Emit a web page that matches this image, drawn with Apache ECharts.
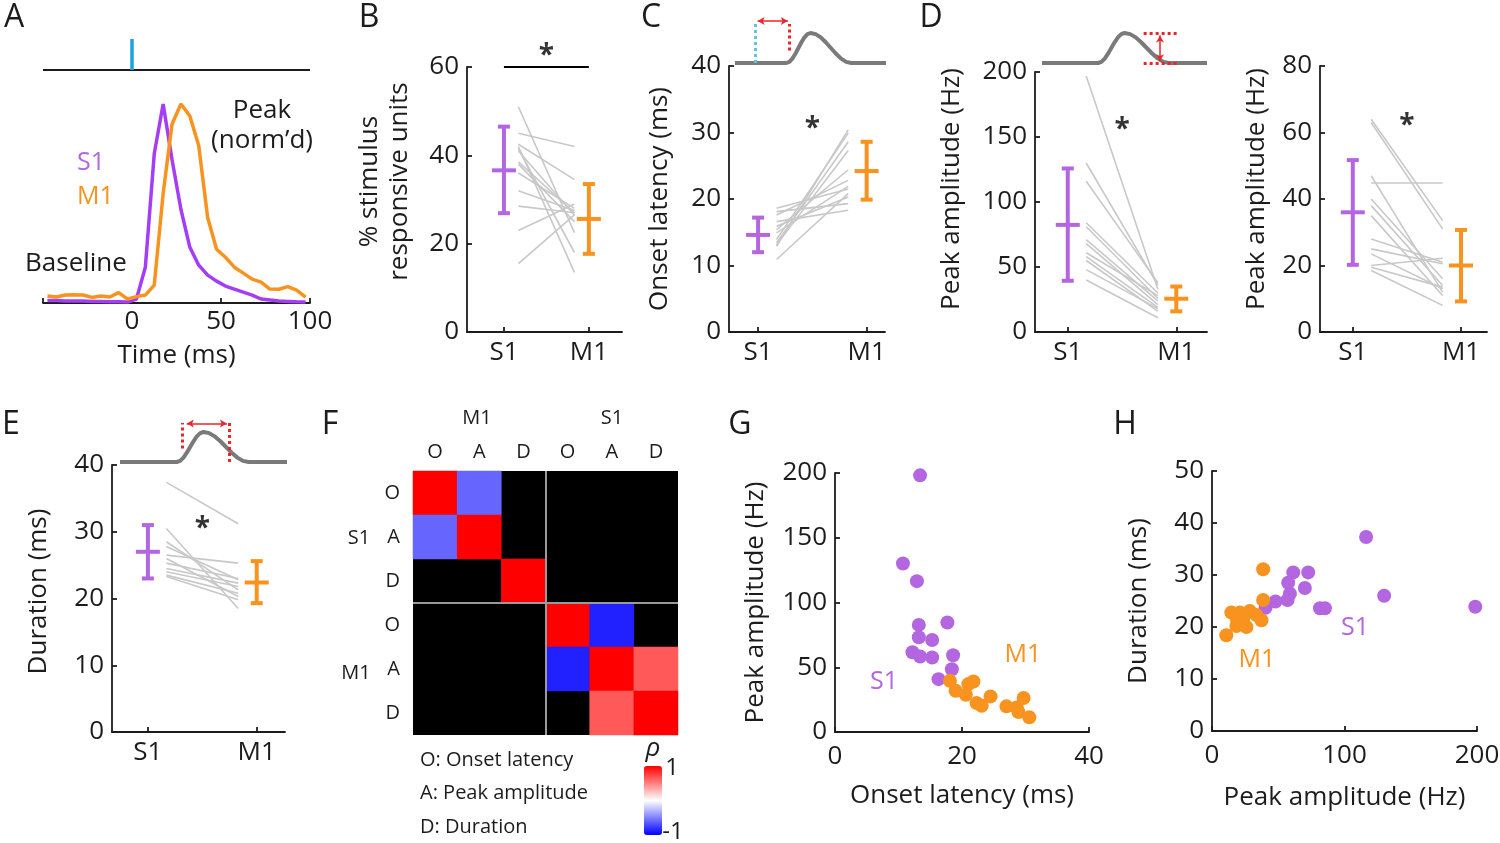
<!DOCTYPE html>
<html>
<head>
<meta charset="utf-8">
<script src="https://cdn.jsdelivr.net/npm/echarts@6/dist/echarts.min.js"></script>
<style>
  html, body { margin: 0; padding: 0; background: #fff; }
  #main { width: 1500px; height: 843px; }
</style>
</head>
<body>
<div id="main"></div>
<script>
// ---------------- data ----------------
// A: population PSTH, normalised to peak
var timeMs = [-47.5, -42.5, -37.5, -32.5, -27.5, -22.5, -17.5, -12.5, -7.5, -2.5,
              2.5, 7.5, 12.5, 17.5, 22.5, 27.5, 32.5, 37.5, 42.5, 47.5,
              52.5, 57.5, 62.5, 67.5, 72.5, 77.5, 82.5, 87.5, 92.5, 97.5];
var s1Psth = [0.012, 0.012, 0.01, 0.01, 0.01, 0.008, 0.008, 0.006, 0.006, 0.005,
              0.02, 0.18, 0.75, 1.0, 0.72, 0.47, 0.28, 0.19, 0.14, 0.11,
              0.085, 0.07, 0.055, 0.04, 0.02, 0.015, 0.01, 0.008, 0.006, 0.005];
var m1Psth = [0.035, 0.03, 0.04, 0.042, 0.04, 0.028, 0.035, 0.03, 0.052, 0.02,
              0.032, 0.04, 0.09, 0.55, 0.90, 1.0, 0.94, 0.79, 0.43, 0.27,
              0.23, 0.18, 0.15, 0.12, 0.105, 0.07, 0.069, 0.082, 0.065, 0.03];

// B: % stimulus responsive units (per animal, S1 -> M1)
var pctS1 = [51, 45, 42.5, 42, 41.5, 41, 38.5, 38, 36, 32, 28.5, 23, 15.5];
var pctM1 = [22.5, 42, 34.5, 13.5, 18, 26.5, 27, 25, 28, 27.5, 27, 29, 26.5];
var pctMean = [36.6, 25.6], pctLow = [26.9, 17.7], pctHigh = [46.5, 33.5];

// C: onset latency (ms)
var latS1 = [18.6, 18.1, 17.6, 16.6, 15.9, 15.4, 14.9, 13.9, 13.4, 13.1, 12.9, 10.9];
var latM1 = [21.5, 19.3, 22.8, 18.3, 20.3, 24.4, 21.9, 29.9, 28.6, 27.3, 30.4, 20.8];
var latMean = [14.6, 24.2], latLow = [12, 19.9], latHigh = [17.2, 28.6];

// D: peak amplitude (Hz)
var ampS1 = [197, 130, 116, 84, 81, 71, 68, 61, 58, 55, 48, 40];
var ampM1 = [33, 36, 38, 30, 26, 24, 21, 28, 19, 16, 18, 11];
var ampMean = [82.4, 25.6], ampLow = [39.4, 15.9], ampHigh = [125.8, 35];

// D (right): peak amplitude (Hz), second measure
var amp2S1 = [64, 63, 47, 45, 40, 38, 35, 28, 25, 23.5, 20, 19.5, 18.5];
var amp2M1 = [33.5, 31, 12, 45, 16, 14, 11, 21, 20.5, 13, 22.2, 13.5, 8];
var amp2Mean = [36, 20], amp2Low = [20.2, 9.2], amp2High = [51.7, 30.7];

// E: duration (ms)
var durS1 = [37.4, 30.5, 28.5, 27.8, 26.5, 26, 25.3, 24.5, 24, 23.5, 23.3];
var durM1 = [31.2, 18.5, 21.3, 22.8, 25.3, 20.3, 23, 22.3, 21.8, 20.8, 19.8];
var durMean = [27, 22.4], durLow = [23, 19.3], durHigh = [31, 25.6];

// F: correlation matrix (null = not significant, drawn black)
var corrLabels = ['O', 'A', 'D', 'O', 'A', 'D'];
var corrRho = [
  [1, -0.6, null, null, null, null],
  [-0.6, 1, null, null, null, null],
  [null, null, 1, null, null, null],
  [null, null, null, 1, -0.87, null],
  [null, null, null, -0.87, 1, 0.65],
  [null, null, null, null, 0.65, 1]
];

// G: onset latency vs peak amplitude
var gLatS1 = [13.4, 10.7, 12.9, 13.2, 17.7, 13.2, 15.3, 12.2, 13.4, 15.3, 18.6, 18.4, 16.3];
var gAmpS1 = [198.2, 130.1, 116.5, 82.7, 84.5, 73.2, 71.1, 61.6, 58.3, 57.5, 59.3, 48.5, 40.8];
var gLatM1 = [18.1, 19.0, 21.0, 21.8, 20.6, 22.3, 23.1, 24.5, 27.0, 28.6, 29.7, 28.9, 30.6];
var gAmpM1 = [39.5, 31.8, 37.0, 39.0, 28.8, 22.3, 20.3, 27.5, 19.8, 19.0, 26.2, 15.4, 11.3];

// H: peak amplitude vs duration
var hAmpS1 = [116.3, 129.9, 198.7, 61.3, 72.6, 57.5, 70.1, 58.8, 57.0, 47.9, 40.4, 81.5, 85.2];
var hDurS1 = [37.3, 26.0, 23.9, 30.5, 30.5, 28.5, 27.5, 26.4, 25.2, 24.9, 23.7, 23.6, 23.6];
var hAmpM1 = [38.6, 38.6, 14.6, 21.0, 28.5, 33.5, 37.3, 10.8, 18.4, 26.0, 19.0, 23.5];
var hDurM1 = [31.1, 25.2, 22.8, 22.8, 23.1, 22.3, 21.3, 18.4, 20.2, 20.0, 21.3, 21.6];

// schematic response bump used above C, D, E (shape only)
var bumpX = [0, 0.34, 0.36, 0.38, 0.40, 0.42, 0.44, 0.46, 0.48, 0.50,
             0.534, 0.568, 0.601, 0.635, 0.669, 0.703, 0.736, 0.77, 1];
var bumpY = [0, 0, 0.038, 0.146, 0.309, 0.5, 0.691, 0.854, 0.962, 1,
             0.962, 0.854, 0.691, 0.5, 0.309, 0.146, 0.038, 0, 0];

// ---------------- style ----------------
var PURPLE = '#B366E0', PURPLE_LINE = '#A63DF6', ORANGE = '#F7931E';
var GRAY = '#c8c8c8', INK = '#1c1c1c', RED = '#E8262B', CYAN = '#5BC8DC';
var FONT = "'Open Sans', 'Noto Sans', sans-serif";
var pairX = [1.17, 1.83];

var grids = [], xAxes = [], yAxes = [], series = [], graphics = [];

function addGrid(box) {
  box.containLabel = false;
  box.outerBoundsMode = 'none';
  grids.push(box);
  return grids.length - 1;
}
var axisLine = { show: true, lineStyle: { color: INK, width: 1.8 } };
var tickIn = { show: true, inside: true, length: 5, lineStyle: { color: INK, width: 1.8 } };
function lbl(extra) {
  return Object.assign({ color: INK, fontSize: 26, fontFamily: FONT, margin: 8 }, extra || {});
}
function nameStyle(pad) {
  return { color: INK, fontSize: 26, fontFamily: FONT, lineHeight: 30, padding: pad || 0 };
}
function pairData(a, b) {
  return a.map(function (v, i) { return [v, b[i]]; });
}

function renderErr(params, api) {
  var x = api.value(0);
  var pm = api.coord([x, api.value(1)]);
  var pl = api.coord([x, api.value(2)]);
  var ph = api.coord([x, api.value(3)]);
  var st = { stroke: params.dataIndex === 0 ? PURPLE : ORANGE, lineWidth: 4 };
  return {
    type: 'group',
    children: [
      { type: 'line', shape: { x1: pl[0], y1: pl[1], x2: ph[0], y2: ph[1] }, style: st },
      { type: 'line', shape: { x1: pl[0] - 6, y1: pl[1], x2: pl[0] + 6, y2: pl[1] }, style: st },
      { type: 'line', shape: { x1: ph[0] - 6, y1: ph[1], x2: ph[0] + 6, y2: ph[1] }, style: st },
      { type: 'line', shape: { x1: pm[0] - 12, y1: pm[1], x2: pm[0] + 12, y2: pm[1] }, style: st }
    ]
  };
}

// S1 vs M1 paired panel (B, C, D, E)
function pairPanel(box, xr, yMax, yInt, yName, gap, pad, s1, m1, mean, low, high, star, sigBar) {
  var gi = addGrid(box);
  xAxes.push({
    gridIndex: gi, type: 'value', min: xr[0], max: xr[1],
    axisLine: axisLine,
    axisTick: Object.assign({}, tickIn, { customValues: [1, 2] }),
    axisLabel: lbl({ customValues: [1, 2], formatter: function (v) { return v === 1 ? 'S1' : 'M1'; } }),
    splitLine: { show: false }
  });
  yAxes.push({
    gridIndex: gi, type: 'value', min: 0, max: yMax, interval: yInt,
    name: yName, nameLocation: 'middle', nameGap: gap, nameTextStyle: nameStyle(pad),
    axisLine: axisLine, axisTick: tickIn, axisLabel: lbl(), splitLine: { show: false }
  });
  var xi = xAxes.length - 1, yi = yAxes.length - 1;
  series.push({
    type: 'lines', coordinateSystem: 'cartesian2d', xAxisIndex: xi, yAxisIndex: yi,
    silent: true, z: 2,
    lineStyle: { color: GRAY, width: 1.6, opacity: 1 },
    data: s1.map(function (v, i) { return { coords: [[pairX[0], v], [pairX[1], m1[i]]] }; })
  });
  series.push({
    type: 'custom', coordinateSystem: 'cartesian2d', xAxisIndex: xi, yAxisIndex: yi,
    silent: true, z: 3, renderItem: renderErr,
    data: [[1, mean[0], low[0], high[0]], [2, mean[1], low[1], high[1]]]
  });
  series.push({
    type: 'scatter', xAxisIndex: xi, yAxisIndex: yi, clip: false, silent: true,
    symbolSize: 1, itemStyle: { color: 'rgba(0,0,0,0)' },
    label: { show: true, position: 'inside', formatter: '*', fontSize: 28, fontWeight: 'bold', color: '#000', fontFamily: FONT, offset: [0, 7] },
    data: [star]
  });
  if (sigBar) {
    series.push({
      type: 'lines', coordinateSystem: 'cartesian2d', xAxisIndex: xi, yAxisIndex: yi,
      silent: true, lineStyle: { color: '#000', width: 2, opacity: 1 },
      data: [{ coords: sigBar }]
    });
  }
}

// small cartoon of a response above C, D and E
function cartoon(box, marks) {
  var gi = addGrid(box);
  xAxes.push({ gridIndex: gi, type: 'value', min: 0, max: 1, show: false });
  yAxes.push({ gridIndex: gi, type: 'value', min: 0, max: 1.5, show: false });
  series.push({
    type: 'line', xAxisIndex: xAxes.length - 1, yAxisIndex: yAxes.length - 1,
    showSymbol: false, silent: true, clip: false,
    lineStyle: { color: '#7a7a7a', width: 4 },
    data: pairData(bumpX, bumpY),
    markLine: { silent: true, symbol: ['none', 'none'], label: { show: false }, animation: false, data: marks }
  });
}
function dotted(x1, y1, x2, y2, color) {
  return [{ coord: [x1, y1], lineStyle: { color: color, type: 'dotted', width: 3 } }, { coord: [x2, y2] }];
}
function arrow(x1, y1, x2, y2) {
  return [{ coord: [x1, y1], symbol: 'arrow', symbolSize: [6, 7], lineStyle: { color: RED, type: 'solid', width: 1.5 } },
          { coord: [x2, y2], symbol: 'arrow', symbolSize: [6, 7] }];
}

function txt(x, y, s, o) {
  o = o || {};
  graphics.push({
    type: 'text', x: x, y: y, silent: true,
    style: {
      text: s, fill: o.color || INK, fontSize: o.size || 26, fontFamily: FONT,
      fontStyle: o.italic ? 'italic' : 'normal',
      textAlign: o.align || 'center', textVerticalAlign: 'middle'
    }
  });
}

// ---------------- panel A ----------------
var gA = addGrid({ left: 43, top: 39, width: 267, height: 264 });
xAxes.push({
  gridIndex: gA, type: 'value', min: -50, max: 100, interval: 50,
  name: 'Time (ms)', nameLocation: 'middle', nameGap: 38, nameTextStyle: nameStyle(),
  axisLine: axisLine, axisTick: tickIn,
  axisLabel: lbl({ margin: 6, customValues: [0, 50, 100] }), splitLine: { show: false }
});
yAxes.push({ gridIndex: gA, type: 'value', min: 0, max: 1.327, show: false });
series.push({
  type: 'line', xAxisIndex: 0, yAxisIndex: 0, showSymbol: false, silent: true,
  lineStyle: { color: PURPLE_LINE, width: 3.5 }, data: pairData(timeMs, s1Psth),
  markLine: {
    silent: true, symbol: ['none', 'none'], label: { show: false }, animation: false,
    data: [
      [{ coord: [-50, 1.171], lineStyle: { color: INK, width: 2, type: 'solid' } }, { coord: [100, 1.171] }],
      [{ coord: [0, 1.171], lineStyle: { color: '#1AA3E0', width: 3.5, type: 'solid' } }, { coord: [0, 1.327] }]
    ]
  }
});
series.push({
  type: 'line', xAxisIndex: 0, yAxisIndex: 0, showSymbol: false, silent: true,
  lineStyle: { color: ORANGE, width: 3.5 }, data: pairData(timeMs, m1Psth)
});

// ---------------- panels B-E ----------------
pairPanel({ left: 467, top: 67, width: 155, height: 265 }, [0.565, 2.39], 60, 20,
  '% stimulus\nresponsive units', 52, [0, 0, 0, 36], pctS1, pctM1, pctMean, pctLow, pctHigh,
  [1.5, 64], [[1, 60], [2, 60]]);
pairPanel({ left: 729, top: 66, width: 156, height: 266 }, [0.732, 2.169], 40, 10,
  'Onset latency (ms)', 54, 0, latS1, latM1, latMean, latLow, latHigh, [1.5, 31.5]);
pairPanel({ left: 1035, top: 72, width: 172, height: 260 }, [0.698, 2.283], 200, 50,
  'Peak amplitude (Hz)', 68, [0, 0, 0, 26], ampS1, ampM1, ampMean, ampLow, ampHigh, [1.5, 161]);
pairPanel({ left: 1320, top: 66, width: 167, height: 266 }, [0.697, 2.24], 80, 20,
  'Peak amplitude (Hz)', 48, [0, 0, 0, 20], amp2S1, amp2M1, amp2Mean, amp2Low, amp2High, [1.5, 64.2]);
pairPanel({ left: 112, top: 465, width: 173, height: 267 }, [0.67, 2.26], 40, 10,
  'Duration (ms)', 58, [0, 0, 0, 14], durS1, durM1, durMean, durLow, durHigh, [1.5, 31.5]);

// cartoons
cartoon({ left: 735, top: 18, width: 151, height: 45 }, [
  dotted(0.137, 0, 0.137, 1.4, CYAN),
  dotted(0.362, 0.42, 0.362, 1.3, RED),
  arrow(0.15, 1.4, 0.35, 1.4)
]);
cartoon({ left: 1042, top: 18, width: 165, height: 45 }, [
  dotted(0.616, 0.98, 0.818, 0.98, RED),
  dotted(0.616, 0, 0.818, 0, RED),
  arrow(0.715, 0.06, 0.715, 0.92)
]);
cartoon({ left: 120, top: 417, width: 167, height: 45 }, [
  dotted(0.375, 0.45, 0.375, 1.3, RED),
  dotted(0.655, 0, 0.655, 1.3, RED),
  arrow(0.40, 1.28, 0.64, 1.28)
]);

// ---------------- panel F ----------------
var fBox = { left: 413, top: 471, width: 265, height: 264 };
var gF = addGrid(Object.assign({ show: true, backgroundColor: '#000', borderWidth: 0 }, fBox));
xAxes.push({
  gridIndex: gF, type: 'category', data: corrLabels, position: 'top',
  axisLine: { show: false }, axisTick: { show: false },
  axisLabel: lbl({ fontSize: 20, margin: 9 }), splitLine: { show: false }
});
yAxes.push({
  gridIndex: gF, type: 'category', data: corrLabels, inverse: true,
  axisLine: { show: false }, axisTick: { show: false },
  axisLabel: lbl({ fontSize: 20, margin: 13 }), splitLine: { show: false }
});
var heatData = [];
corrRho.forEach(function (row, r) {
  row.forEach(function (v, c) { if (v !== null) heatData.push([c, r, v]); });
});
var heatIdx = series.length;
series.push({
  type: 'heatmap', xAxisIndex: xAxes.length - 1, yAxisIndex: yAxes.length - 1,
  silent: true, data: heatData, itemStyle: { borderWidth: 0 }
});
var gF2 = addGrid(Object.assign({}, fBox));
xAxes.push({ gridIndex: gF2, type: 'value', min: 0, max: 6, show: false });
yAxes.push({ gridIndex: gF2, type: 'value', min: 0, max: 6, show: false });
series.push({
  type: 'lines', coordinateSystem: 'cartesian2d', xAxisIndex: xAxes.length - 1, yAxisIndex: yAxes.length - 1,
  silent: true, z: 5, lineStyle: { color: '#9a9a9a', width: 2, opacity: 1 },
  data: [{ coords: [[3, 0], [3, 6]] }, { coords: [[0, 3], [6, 3]] }]
});

// ---------------- panels G, H ----------------
function scatterPanel(box, xMax, xInt, yMax, yInt, xName, yName, xGap, yGap, sets) {
  var gi = addGrid(box);
  xAxes.push({
    gridIndex: gi, type: 'value', min: 0, max: xMax, interval: xInt,
    name: xName, nameLocation: 'middle', nameGap: xGap, nameTextStyle: nameStyle(),
    axisLine: axisLine, axisTick: tickIn, axisLabel: lbl({ margin: 12 }), splitLine: { show: false }
  });
  yAxes.push({
    gridIndex: gi, type: 'value', min: 0, max: yMax, interval: yInt,
    name: yName, nameLocation: 'middle', nameGap: yGap, nameTextStyle: nameStyle(),
    axisLine: axisLine, axisTick: tickIn, axisLabel: lbl(), splitLine: { show: false }
  });
  sets.forEach(function (s) {
    series.push({
      type: 'scatter', xAxisIndex: xAxes.length - 1, yAxisIndex: yAxes.length - 1,
      silent: true, symbolSize: 14, itemStyle: { color: s.color, opacity: 1 },
      data: pairData(s.x, s.y)
    });
  });
}
scatterPanel({ left: 835, top: 473, width: 254, height: 259 }, 40, 20, 200, 50,
  'Onset latency (ms)', 'Peak amplitude (Hz)', 49, 64,
  [{ x: gLatS1, y: gAmpS1, color: PURPLE }, { x: gLatM1, y: gAmpM1, color: ORANGE }]);
scatterPanel({ left: 1212, top: 471, width: 265, height: 260 }, 200, 100, 50, 10,
  'Peak amplitude (Hz)', 'Duration (ms)', 52, 58,
  [{ x: hAmpS1, y: hDurS1, color: PURPLE }, { x: hAmpM1, y: hDurM1, color: ORANGE }]);

// ---------------- text annotations ----------------
txt(14, 18, 'A', { size: 32 });
txt(369, 18, 'B', { size: 32 });
txt(651, 18, 'C', { size: 32 });
txt(931, 18, 'D', { size: 32 });
txt(11, 425, 'E', { size: 32 });
txt(330, 425, 'F', { size: 32 });
txt(740, 425, 'G', { size: 32 });
txt(1125, 425, 'H', { size: 32 });

txt(262, 111, 'Peak');
txt(262, 141, '(norm\u2019d)');
txt(77, 163, 'S1', { align: 'left', color: PURPLE, size: 25 });
txt(77, 197, 'M1', { align: 'left', color: ORANGE, size: 25 });
txt(25, 264, 'Baseline', { align: 'left' });

txt(477, 418, 'M1', { size: 20 });
txt(612, 418, 'S1', { size: 20 });
txt(359, 538, 'S1', { size: 20 });
txt(356, 673, 'M1', { size: 20 });
txt(420, 760, 'O: Onset latency', { align: 'left', size: 20 });
txt(420, 793, 'A: Peak amplitude', { align: 'left', size: 20 });
txt(420, 827, 'D: Duration', { align: 'left', size: 20 });
txt(653, 749, '\u03c1', { italic: true, size: 26 });
txt(672, 768, '1', { size: 24 });
txt(673, 832, '-1', { size: 24 });

txt(884, 682, 'S1', { color: PURPLE, size: 25 });
txt(1023, 655, 'M1', { color: ORANGE, size: 25 });
txt(1355, 628, 'S1', { color: PURPLE, size: 25 });
txt(1257, 660, 'M1', { color: ORANGE, size: 25 });

// ---------------- chart ----------------
var chart = echarts.init(document.getElementById('main'));
chart.setOption({
  animation: false,
  backgroundColor: '#fff',
  textStyle: { fontFamily: FONT },
  grid: grids,
  xAxis: xAxes,
  yAxis: yAxes,
  visualMap: {
    type: 'continuous', min: -1, max: 1, seriesIndex: heatIdx, calculable: false,
    orient: 'vertical', left: 644, top: 766, itemWidth: 18, itemHeight: 69, padding: 0,
    inRange: { color: ['#0000ff', '#ffffff', '#ff0000'] }
  },
  series: series,
  graphic: graphics
});
</script>
</body>
</html>
